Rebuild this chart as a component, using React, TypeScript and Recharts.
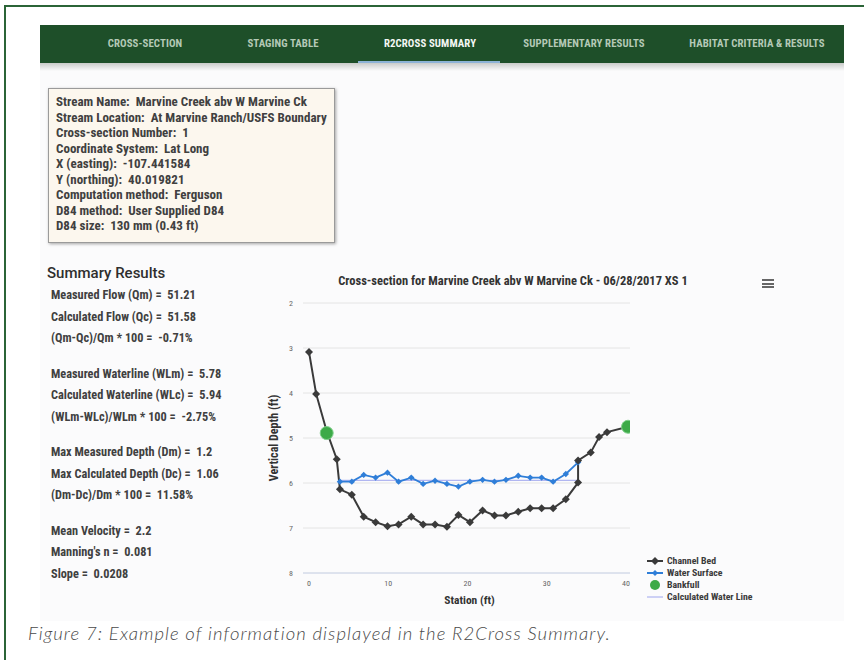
import React from 'react';
import { ComposedChart, Line, XAxis, YAxis, CartesianGrid, Legend } from 'recharts';

// ---- Data ----
const channelBed = [
  { x: 0, y: 3.09 }, { x: 0.9, y: 4.02 }, { x: 2.23, y: 4.85 }, { x: 3.5, y: 5.47 }, { x: 3.9, y: 6.14 },
  { x: 5.4, y: 6.26 }, { x: 6.9, y: 6.75 }, { x: 8.4, y: 6.87 }, { x: 9.9, y: 6.96 },
  { x: 11.3, y: 6.92 }, { x: 12.9, y: 6.75 }, { x: 14.4, y: 6.92 }, { x: 15.9, y: 6.92 },
  { x: 17.4, y: 6.97 }, { x: 18.85, y: 6.71 }, { x: 20.3, y: 6.87 }, { x: 21.9, y: 6.61 },
  { x: 23.4, y: 6.72 }, { x: 24.85, y: 6.72 }, { x: 26.4, y: 6.64 }, { x: 27.9, y: 6.56 },
  { x: 29.35, y: 6.56 }, { x: 30.8, y: 6.56 }, { x: 32.4, y: 6.36 }, { x: 33.95, y: 5.99 },
  { x: 33.95, y: 5.5 }, { x: 35.55, y: 5.32 }, { x: 36.6, y: 4.98 }, { x: 37.6, y: 4.87 },
  { x: 40.25, y: 4.75 },
];
const waterSurface = [
  { x: 3.9, y: 5.97 }, { x: 5.4, y: 5.97 }, { x: 6.9, y: 5.82 }, { x: 8.4, y: 5.88 },
  { x: 9.9, y: 5.77 }, { x: 11.3, y: 5.97 }, { x: 12.9, y: 5.88 }, { x: 14.4, y: 6.02 },
  { x: 15.9, y: 5.95 }, { x: 17.4, y: 6.02 }, { x: 18.85, y: 6.08 }, { x: 20.3, y: 5.97 },
  { x: 21.9, y: 5.93 }, { x: 23.4, y: 5.97 }, { x: 24.85, y: 5.93 }, { x: 26.4, y: 5.84 },
  { x: 27.9, y: 5.88 }, { x: 29.35, y: 5.88 }, { x: 30.8, y: 5.97 }, { x: 32.4, y: 5.8 },
  { x: 33.95, y: 5.54 },
];
const bankfull = [{ x: 2.23, y: 4.89 }, { x: 40.25, y: 4.75 }];
const calcWaterLine = [{ x: 3.9, y: 5.94 }, { x: 33.9, y: 5.94 }];

const xTicks = [0, 10, 20, 30, 40];
const yTicks = [2, 3, 4, 5, 6, 7, 8];

const navTabs = ['CROSS-SECTION', 'STAGING TABLE', 'R2CROSS SUMMARY', 'SUPPLEMENTARY RESULTS', 'HABITAT CRITERIA & RESULTS'];
const navCenters = [145, 283, 430, 584, 757];

const infoLines: [string, string][] = [
  ['Stream Name:', 'Marvine Creek abv W Marvine Ck'],
  ['Stream Location:', 'At Marvine Ranch/USFS Boundary'],
  ['Cross-section Number:', '1'],
  ['Coordinate System:', 'Lat Long'],
  ['X (easting):', '-107.441584'],
  ['Y (northing):', '40.019821'],
  ['Computation method:', 'Ferguson'],
  ['D84 method:', 'User Supplied D84'],
  ['D84 size:', '130 mm (0.43 ft)'],
];

const summaryGroups: string[][] = [
  ['Measured Flow (Qm) =  51.21', 'Calculated Flow (Qc) =  51.58', '(Qm-Qc)/Qm * 100 =  -0.71%'],
  ['Measured Waterline (WLm) =  5.78', 'Calculated Waterline (WLc) =  5.94', '(WLm-WLc)/WLm * 100 =  -2.75%'],
  ['Max Measured Depth (Dm) =  1.2', 'Max Calculated Depth (Dc) =  1.06', '(Dm-Dc)/Dm * 100 =  11.58%'],
  ['Mean Velocity =  2.2', "Manning's n =  0.081", 'Slope =  0.0208'],
];

const legendItems = [
  { name: 'Channel Bed', color: '#3a3a3a', kind: 'diamond' },
  { name: 'Water Surface', color: '#2f7ed8', kind: 'small' },
  { name: 'Bankfull', color: '#3daa48', kind: 'circle' },
  { name: 'Calculated Water Line', color: '#9fa6ee', kind: 'line' },
];

const NARROW = '"Liberation Sans Narrow", "Roboto Condensed", "Arial Narrow", Roboto, sans-serif';

const diamondDot = (color: string, r: number) => (props: any) => {
  const { cx, cy, index } = props;
  if (cx == null || cy == null) return <g key={`d${index}`} />;
  return (
    <path key={`d${index}`} d={`M${cx},${cy - r}L${cx + r},${cy}L${cx},${cy + r}L${cx - r},${cy}Z`} fill={color} />
  );
};
const circleDot = (color: string, r: number) => (props: any) => {
  const { cx, cy, index } = props;
  if (cx == null || cy == null) return <g key={`c${index}`} />;
  return <circle key={`c${index}`} cx={cx} cy={cy} r={r} fill={color} stroke="#7fd08a" strokeWidth={1} />;
};

const renderLegend = () => (
  <div style={{ fontFamily: NARROW, fontSize: 9.8, color: '#3a3a3a', fontWeight: 700 }}>
    {[0, 1, 2, 3].map((i) => {
      const it = legendItems[i];
      return (
        <div key={it.name} style={{ display: 'flex', alignItems: 'center', height: i === 2 ? 12.5 : 11.7, whiteSpace: 'nowrap' }}>
          <svg width={16} height={10} style={{ marginRight: 4 }}>
            {it.kind !== 'circle' && (
              <line x1={0} y1={5} x2={16} y2={5} stroke={it.color} strokeWidth={it.kind === 'line' ? 1 : 2} />
            )}
            {it.kind === 'diamond' && <path d="M8,1L12,5L8,9L4,5Z" fill={it.color} />}
            {it.kind === 'small' && <path d="M8,2L11,5L8,8L5,5Z" fill={it.color} />}
            {it.kind === 'circle' && <circle cx={8} cy={5} r={5} fill={it.color} />}
          </svg>
          <span>{it.name}</span>
        </div>
      );
    })}
  </div>
);

export default function App() {
  return (
    <div
      style={{
        position: 'absolute', left: 0, top: 0, width: 864, height: 660, background: '#fff',
        overflow: 'hidden', fontFamily: 'Roboto, sans-serif',
      }}
    >
      {/* outer green frame */}
      <div style={{ position: 'absolute', left: 4, top: 5, width: 900, height: 700, border: '2px solid #2b6437' }} />
      {/* content background */}
      <div style={{ position: 'absolute', left: 40, top: 63, width: 804, height: 558, background: '#fbfbfc' }} />
      {/* nav shadow */}
      <div style={{ position: 'absolute', left: 40, top: 63, width: 804, height: 8, background: 'linear-gradient(#c9cbc9, #fbfbfc)' }} />
      {/* nav bar */}
      <div style={{ position: 'absolute', left: 40, top: 25, width: 804, height: 38, background: '#1e4f29' }} />
      {navTabs.map((t, i) => (
        <div
          key={t}
          style={{
            position: 'absolute', left: navCenters[i] - 90, width: 180, top: 38, textAlign: 'center',
            fontFamily: NARROW, fontSize: 10.8, letterSpacing: 0.1,
            color: i === 2 ? '#f4f7f4' : '#b4c9b6', fontWeight: 700, lineHeight: '12px',
          }}
        >
          {t}
        </div>
      ))}
      <div style={{ position: 'absolute', left: 358, top: 61, width: 142, height: 2, background: '#8db3d6' }} />

      {/* info box */}
      <div
        style={{
          position: 'absolute', left: 48, top: 88, width: 285, height: 153, background: '#fcf7ee',
          border: '1px solid #9a9a9a', boxShadow: '1px 1px 3px rgba(0,0,0,0.35)',
        }}
      />
      {infoLines.map(([a, b], i) => (
        <div
          key={a}
          style={{
            position: 'absolute', left: 56, top: 94 + i * 15.5, fontFamily: NARROW, fontSize: 13,
            lineHeight: '15px', color: '#404040', whiteSpace: 'nowrap', fontWeight: 700,
          }}
        >
          {a}&nbsp; {b}
        </div>
      ))}

      {/* summary results */}
      <div style={{ position: 'absolute', left: 47, top: 263, fontSize: 15, fontWeight: 500, color: '#2e2e2e', lineHeight: '20px' }}>
        Summary Results
      </div>
      {summaryGroups.map((g, gi) =>
        g.map((line, li) => (
          <div
            key={line}
            style={{
              position: 'absolute', left: 51, top: 287 + gi * 78.5 + li * 21.5, fontFamily: NARROW,
              fontSize: 12.3, fontWeight: 700, color: '#404040', whiteSpace: 'pre', lineHeight: '16px',
            }}
          >
            {line}
          </div>
        ))
      )}

      {/* chart title & menu */}
      <div
        style={{
          position: 'absolute', left: 263, width: 500, top: 273, textAlign: 'center', fontFamily: NARROW,
          fontSize: 12.5, fontWeight: 700, color: '#333', lineHeight: '15px', whiteSpace: 'nowrap',
        }}
      >
        Cross-section for Marvine Creek abv W Marvine Ck - 06/28/2017 XS 1
      </div>
      {[0, 1, 2].map((k) => (
        <div key={k} style={{ position: 'absolute', left: 762, top: 279 + k * 3.5, width: 12, height: 2, background: '#666' }} />
      ))}

      {/* chart */}
      <div style={{ position: 'absolute', left: 260, top: 265 }}>
        <ComposedChart width={540} height={355} margin={{ top: 38, right: 40, bottom: 17, left: 23 }}>
          <CartesianGrid vertical={false} stroke="#e4e4e4" />
          <XAxis
            dataKey="x"
            type="number"
            domain={[-0.76, 40.5]}
            ticks={xTicks}
            allowDataOverflow
            height={30}
            tickSize={0}
            tickMargin={7}
            axisLine={{ stroke: '#ccd6eb' }}
            tick={{ fontSize: 8, fill: '#666', fontFamily: NARROW }}
            label={{
              content: (p: any) => {
                const vb = p.viewBox;
                return (
                  <text x={vb.x + vb.width / 2 + 3} y={vb.y + 31} textAnchor="middle" fontSize={11.5}
                    fontWeight={700} fill="#333" fontFamily={NARROW}>Station (ft)</text>
                );
              },
            }}
          />
          <YAxis
            type="number"
            domain={[2, 8]}
            reversed
            ticks={yTicks}
            allowDataOverflow
            width={20}
            tickSize={0}
            tickMargin={10}
            axisLine={false}
            tick={{ fontSize: 8, fill: '#666', fontFamily: NARROW }}
            label={{
              content: (p: any) => {
                const vb = p.viewBox;
                const cx = vb.x - 8;
                const cy = vb.y + vb.height / 2;
                return (
                  <text x={cx} y={cy} transform={`rotate(-90 ${cx} ${cy})`} textAnchor="middle" dominantBaseline="middle"
                    fontSize={12} fontWeight={700} fill="#333" fontFamily={NARROW}>Vertical Depth (ft)</text>
                );
              },
            }}
          />
          <Line data={calcWaterLine} dataKey="y" name="Calculated Water Line" stroke="#9fa6ee" strokeWidth={1}
            dot={false} isAnimationActive={false} />
          <Line data={waterSurface} dataKey="y" name="Water Surface" stroke="#2f7ed8" strokeWidth={1.8}
            dot={diamondDot('#2f7ed8', 3.2)} activeDot={false} isAnimationActive={false} />
          <Line data={channelBed} dataKey="y" name="Channel Bed" stroke="#3a3a3a" strokeWidth={2}
            dot={diamondDot('#3a3a3a', 4)} activeDot={false} isAnimationActive={false} />
          <Line data={bankfull} dataKey="y" name="Bankfull" stroke="none" dot={circleDot('#3daa48', 6.5)}
            activeDot={false} isAnimationActive={false} />
          <Legend
            layout="vertical"
            align="right"
            verticalAlign="bottom"
            content={renderLegend}
            wrapperStyle={{ left: 387, top: 290, right: 'auto', bottom: 'auto', width: 130 }}
          />
        </ComposedChart>
      </div>

      {/* caption */}
      <div
        style={{
          position: 'absolute', left: 28, top: 622, fontFamily: 'Lato, sans-serif', fontStyle: 'italic',
          fontWeight: 300, fontSize: 18.5, color: '#4a4a4a', letterSpacing: 1.05, whiteSpace: 'nowrap',
        }}
      >
        Figure 7: Example of information displayed in the R2Cross Summary.
      </div>
    </div>
  );
}
